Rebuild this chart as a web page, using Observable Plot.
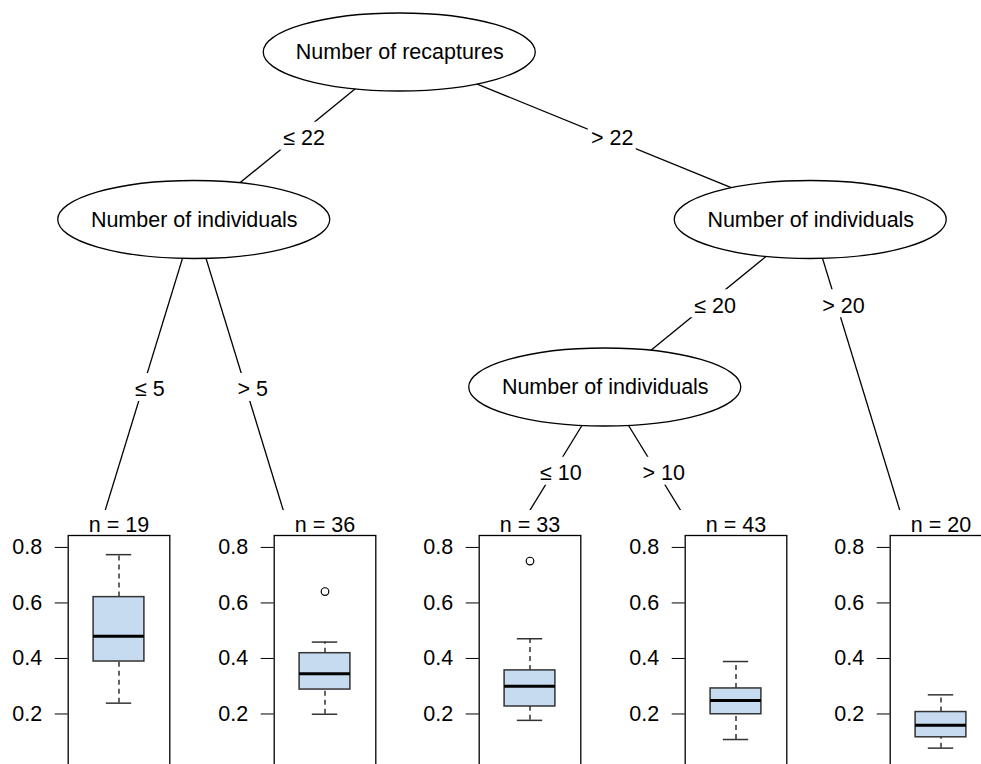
<!DOCTYPE html>
<html><head><meta charset="utf-8">
<script src="https://cdn.jsdelivr.net/npm/d3@7"></script>
<script src="https://cdn.jsdelivr.net/npm/@observablehq/plot@0.6"></script>
<style>
body{margin:0;background:#fff}
#wrap{position:relative;width:981px;height:764px;overflow:hidden;background:#fff;font-family:"Liberation Sans",Arial,sans-serif}
#wrap svg{position:absolute}
</style></head><body><div id="wrap"></div>
<script>
// ---- data ----
const splitVariables = ["Number of recaptures","Number of individuals","Number of individuals","Number of individuals"];
const splitLeft  = ["≤ 22","≤ 5","≤ 20","≤ 10"];
const splitRight = ["> 22","> 5","> 20","> 10"];
const leafN = [19, 36, 33, 43, 20];
const whiskerLow  = [0.239, 0.199, 0.177, 0.108, 0.077];
const quart1      = [0.389, 0.288, 0.227, 0.199, 0.116];
const medians     = [0.480, 0.345, 0.300, 0.249, 0.159];
const quart3      = [0.621, 0.419, 0.357, 0.292, 0.207];
const whiskerHigh = [0.774, 0.459, 0.471, 0.389, 0.269];
const outliers    = [[], [0.641], [0.751], [], []];
const yTicks = [0.2, 0.4, 0.6, 0.8];
const yDomain = [0, 0.843];

// tree structure (split index / leaf index)
const tree = {split:0, kids:[
  {split:1, kids:[{leaf:0},{leaf:1}]},
  {split:2, kids:[{split:3, kids:[{leaf:2},{leaf:3}]}, {leaf:4}]}
]};

const FONT = '"Liberation Sans", Arial, sans-serif';
const FS = 21.5;

// ---- layout ----
function nTerm(n){ return n.kids ? d3.sum(n.kids, nTerm) : 1; }
function depthMax(n){ return n.kids ? 1 + d3.max(n.kids, depthMax) : 0; }
const maxDepth = depthMax(tree);
const inner = [], leaves = [], edges = [];
function layout(n, start, depth){
  if (!n.kids){ n.x = start + 0.5; n.depth = maxDepth; leaves.push(n); return; }
  n.x = start + nTerm(n.kids[0]); n.depth = depth; inner.push(n);
  const allLeaves = n.kids.every(k => !k.kids);
  let s = start;
  n.kids.forEach((k, i) => {
    layout(k, s, depth + 1); s += nTerm(k);
    const ly = allLeaves ? (depth + maxDepth) / 2 : depth + 0.5;
    const t = (ly - depth) / (k.depth - depth);
    edges.push({x1:n.x, y1:depth, x2:k.x, y2:k.depth, lx:n.x + t*(k.x - n.x), ly,
      label: i === 0 ? splitLeft[n.split] : splitRight[n.split]});
  });
}
layout(tree, 0, 0);

// custom marks
function labelBoxes(data){
  return (index, scales) => {
    const g = d3.create("svg:g");
    g.selectAll("rect").data(data).join("rect")
      .attr("x", d => scales.x(d.lx) + 7 - (d.label.length*10.5 + 6)/2)
      .attr("y", d => scales.y(d.ly) - 14)
      .attr("width", d => d.label.length*10.5 + 6)
      .attr("height", 28)
      .attr("fill", "white");
    return g.node();
  };
}
function ellipses(data){
  return (index, scales) => {
    const g = d3.create("svg:g");
    g.selectAll("ellipse").data(data).join("ellipse")
      .attr("cx", d => scales.x(d.x)).attr("cy", d => scales.y(d.depth))
      .attr("rx", 136).attr("ry", 39)
      .attr("fill", "white").attr("stroke", "black").attr("stroke-width", 1.3);
    return g.node();
  };
}

const wrap = document.getElementById("wrap");
const treePlot = Plot.plot({
  width: 981, height: 764, margin: 0,
  x: {domain: [0, 5], range: [-11.75, 1015.75], axis: null},
  y: {domain: [0, maxDepth], range: [52, 554.5], axis: null},
  style: {fontFamily: FONT, fontSize: FS + "px", background: "transparent", color: "black"},
  marks: [
    Plot.link(edges, {x1:"x1", y1:"y1", x2:"x2", y2:"y2", stroke:"black", strokeWidth:1.3}),
    labelBoxes(edges),
    ellipses(inner),
    Plot.text(edges, {x:"lx", y:"ly", text:"label", dx:7, dy:2, fontSize:FS, fill:"black"}),
    Plot.text(inner, {x:"x", y:"depth", text: d => splitVariables[d.split], fontSize:FS, fill:"black"})
  ]
});
treePlot.style.left = "0px"; treePlot.style.top = "0px";
wrap.append(treePlot);

const xs = treePlot.scale("x");
leaves.forEach(l => {
  const i = l.leaf;
  const st = {xc:0.5, xl:0.25, xr:0.75, cl:0.375, cr:0.625,
    lo:whiskerLow[i], q1:quart1[i], med:medians[i], q3:quart3[i], hi:whiskerHigh[i]};
  const p = Plot.plot({
    width: 200, height: 259,
    marginLeft: 76.7, marginRight: 21.7, marginTop: 25, marginBottom: 0,
    x: {domain: [0, 1], axis: null},
    y: {domain: yDomain, ticks: yTicks, tickFormat: d3.format(".1f"), tickSize: 13, tickPadding: 13, label: null},
    style: {fontFamily: FONT, fontSize: FS + "px", background: "white", color: "black"},
    marks: [
      Plot.ruleX([st], {x:"xc", y1:"q3", y2:"hi", stroke:"#222", strokeWidth:1.4, strokeDasharray:"5 4"}),
      Plot.ruleX([st], {x:"xc", y1:"lo", y2:"q1", stroke:"#222", strokeWidth:1.4, strokeDasharray:"5 4"}),
      Plot.ruleY([st], {y:"hi", x1:"cl", x2:"cr", stroke:"#333", strokeWidth:1.5}),
      Plot.ruleY([st], {y:"lo", x1:"cl", x2:"cr", stroke:"#333", strokeWidth:1.5}),
      Plot.rect([st], {x1:"xl", x2:"xr", y1:"q1", y2:"q3", fill:"#c6dbef", stroke:"#333", strokeWidth:1.5}),
      Plot.ruleY([st], {y:"med", x1:"xl", x2:"xr", stroke:"black", strokeWidth:3}),
      Plot.dot(outliers[i], {x: () => 0.5, y: d => d, r: 3.8, stroke:"black", fill:"none", strokeWidth:1.2}),
      Plot.frame({stroke:"black", strokeWidth:1.3}),
      Plot.text([`n = ${leafN[i]}`], {frameAnchor:"top", lineAnchor:"bottom", dy:-4, fontSize:FS, fill:"black"})
    ]
  });
  p.style.left = (xs.apply(l.x) - 100) + "px";
  p.style.top = "510px";
  wrap.append(p);
});
</script></body></html>
